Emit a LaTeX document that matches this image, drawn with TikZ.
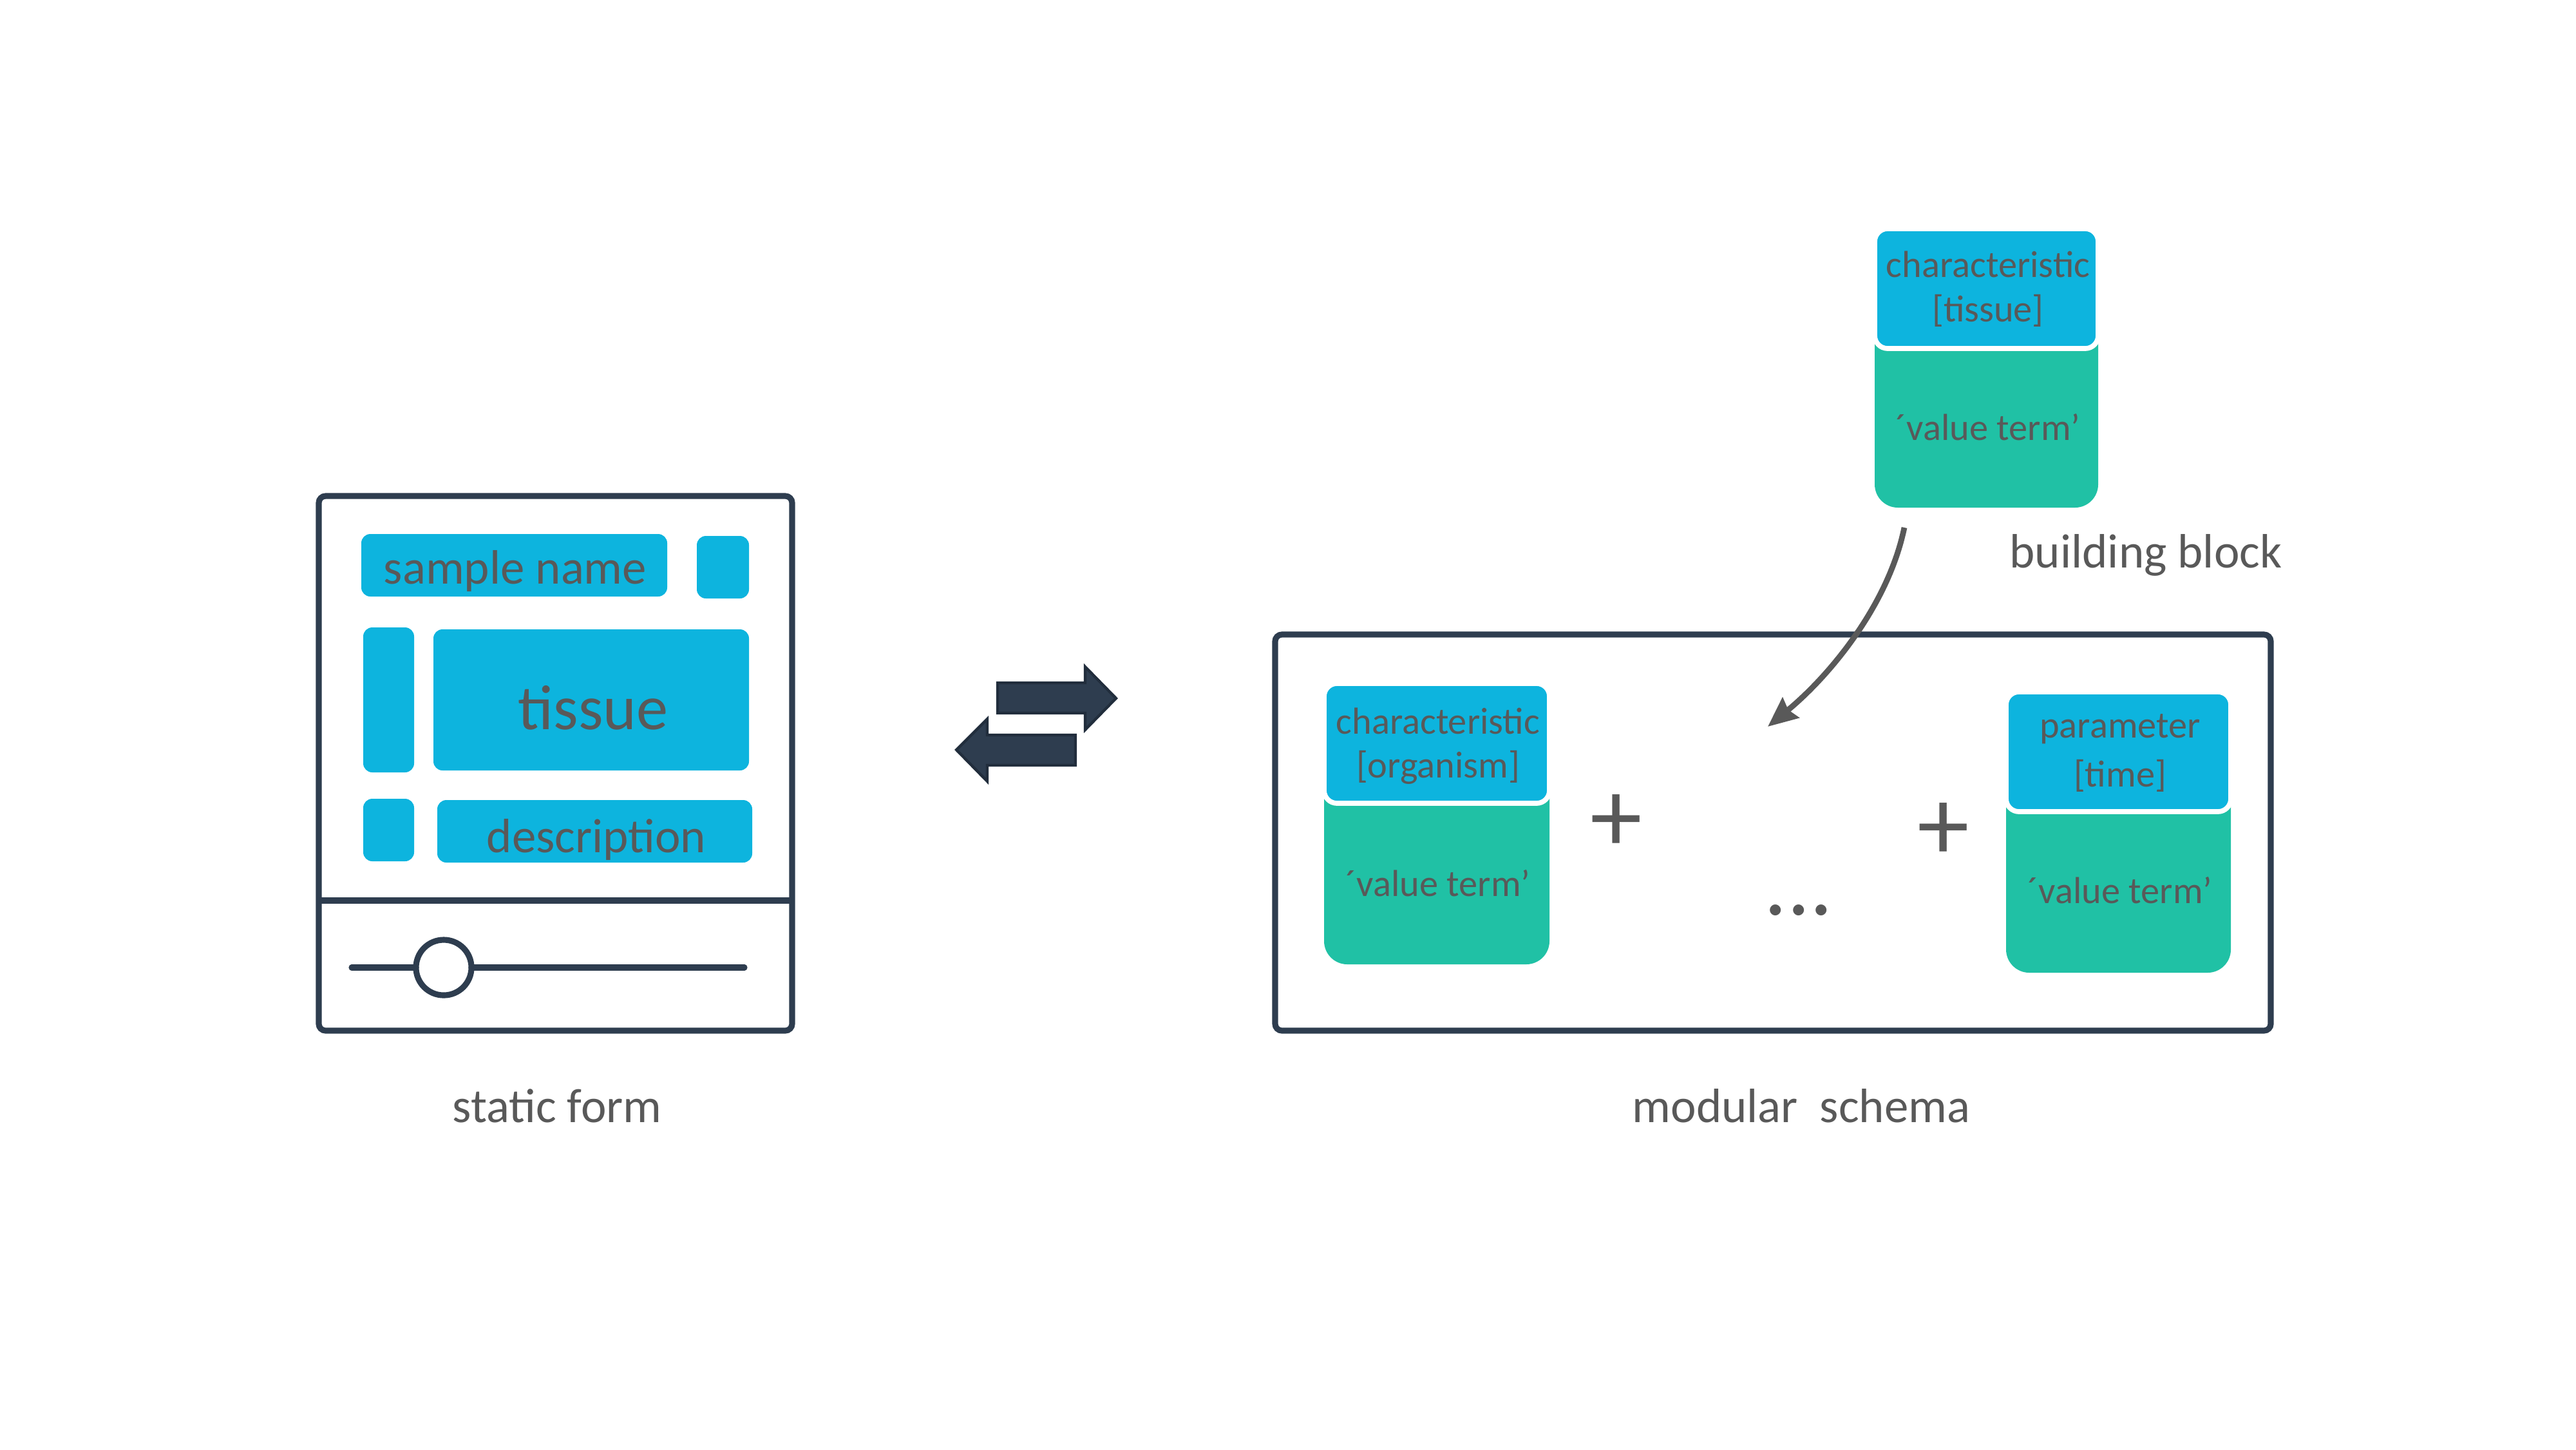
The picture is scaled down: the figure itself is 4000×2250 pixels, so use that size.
\documentclass[tikz,border=0pt]{standalone}
\usepackage{fontspec}
\setmainfont{Carlito}
\usetikzlibrary{arrows.meta}
\definecolor{cblue}{RGB}{13,180,222}
\definecolor{cgreen}{RGB}{32,193,165}
\definecolor{cdark}{RGB}{46,61,79}
\definecolor{cedge}{RGB}{33,45,60}
\definecolor{ctext}{RGB}{89,89,89}
\begin{document}
\begin{tikzpicture}[x=0.01cm,y=-0.01cm,
  frame/.style={draw=cdark,line width=2.6pt,rounded corners=3pt},
  field/.style={fill=cblue,rounded corners=4pt},
  lbl/.style={text=ctext,inner sep=0pt,font=\fontsize{21.3}{25}\selectfont},
  biglbl/.style={text=ctext,inner sep=0pt,font=\fontsize{28}{32}\selectfont},
  blk/.style={text=ctext,inner sep=0pt,font=\fontsize{16.6}{19}\selectfont},
  sym/.style={text=ctext,inner sep=0pt,font=\fontsize{46}{50}\selectfont},
  blockarrow/.style={fill=cdark,draw=cedge,line width=1.2pt},
  bluepart/.style={fill=cblue,draw=white,line width=2.2pt,rounded corners=0.2cm},
  greenpart/.style={fill=cgreen,rounded corners=0.36cm},
  curved/.style={draw=ctext,line width=2.5pt,-{Stealth[length=0.46cm,width=0.4cm,inset=0.05cm]}}
]
\useasboundingbox (0,0) rectangle (4000,2250);

% ---------- static form ----------
\draw[frame] (495,770) rectangle (1230,1600);
\draw[cdark,line width=2.6pt] (495,1398) -- (1230,1398);
\fill[field] (561,829) rectangle (1036,926);
\fill[field] (1082,832) rectangle (1163,929);
\fill[field] (564,974) rectangle (643,1199);
\fill[field] (673,977) rectangle (1163,1196);
\fill[field] (564,1240) rectangle (643,1337);
\fill[field] (679,1242) rectangle (1168,1339);
\node[lbl] (sname) at (800,887) {sample name};
\node[biglbl] (tissue) at (921,1099) {tissue};
\node[lbl] (descr) at (926,1303) {description};
\draw[cdark,line width=2.6pt,line cap=round] (546,1502) -- (646,1502);
\draw[cdark,line width=2.6pt] (689,1502) circle[radius=0.43cm];
\draw[cdark,line width=2.6pt,line cap=round] (732,1502) -- (1156,1502);
\node[lbl] (staticlbl) at (865,1717) {static form};

% ---------- exchange arrows ----------
\draw[blockarrow] (1549,1060) -- (1685,1060) -- (1685,1035) -- (1733,1084) -- (1685,1133) -- (1685,1107) -- (1549,1107) -- cycle;
\draw[blockarrow] (1670,1141) -- (1533,1141) -- (1533,1116) -- (1485,1164) -- (1533,1213) -- (1533,1188) -- (1670,1188) -- cycle;

% ---------- building block ----------
\fill[greenpart] (2911,480) rectangle (3258,788);
\draw[bluepart] (2911,355) rectangle (3258,541);
\node[blk] (bbchar) at (3087,410) {characteristic};
\node[blk] (bbtis) at (3087,482) {[tissue]};
\node[blk] (bbval) at (3087,663) {´value term’};
\node[lbl] (bblbl) at (3332,862) {building block};

% ---------- modular schema ----------
\draw[frame] (1980,985) rectangle (3526,1600);
\fill[greenpart] (2056,1180) rectangle (2406,1497);
\draw[bluepart] (2056,1061) rectangle (2406,1247);
\node[blk] (lchar) at (2233,1119) {characteristic};
\node[blk] (lorg) at (2233,1191) {[organism]};
\node[blk] (lval) at (2233,1371) {´value term’};

\fill[greenpart] (3115,1193) rectangle (3464,1510);
\draw[bluepart] (3115,1074) rectangle (3464,1260);
\node[blk] (rpar) at (3292,1132) {parameter};
\node[blk] (rtime) at (3292,1204) {[time]};
\node[blk] (rval) at (3292,1382) {´value term’};

\node[sym] (plusA) at (2510,1278) {+};
\node[sym] (plusB) at (3018,1291) {+};
\node[text=ctext,inner sep=0pt,font=\fontsize{40}{44}\selectfont] (dots) at (2793,1413) {...};
\node[lbl] (modlbl) at (2797,1717) {modular\ \ schema};

\coordinate (arrstart) at (2957,819);
\coordinate (arrend) at (2745,1128);
\draw[curved] (arrstart) .. controls (2932,940) and (2840,1050) .. (arrend);
\end{tikzpicture}
\end{document}
